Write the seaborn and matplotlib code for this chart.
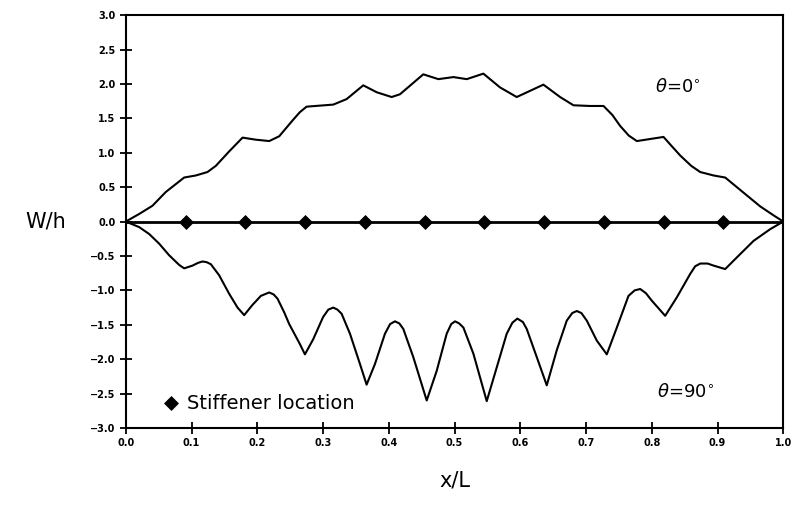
import numpy as np
import pandas as pd
import seaborn as sns
import matplotlib.pyplot as plt

# theta = 0 deg curve
x_theta0 = [0.0, 0.0203, 0.0406, 0.0609, 0.0888, 0.1066, 0.1243, 0.1370, 0.1573, 0.1776,
            0.1979, 0.2182, 0.2334, 0.2537, 0.2648, 0.2750, 0.3156, 0.3359, 0.3612, 0.3815,
            0.4044, 0.4170, 0.4525, 0.4754, 0.4983, 0.5186, 0.5439, 0.5692, 0.5946, 0.6149,
            0.6352, 0.6606, 0.6809, 0.7062, 0.7266, 0.7400, 0.7519, 0.7650, 0.7773, 0.7976,
            0.8179, 0.8300, 0.8433, 0.8600, 0.8737, 0.8940, 0.9117, 0.9396, 0.9650, 0.9853,
            1.0]
w_theta0 = [0.0, 0.11, 0.23, 0.43, 0.64, 0.67, 0.72, 0.81, 1.02, 1.22,
            1.19, 1.17, 1.24, 1.47, 1.59, 1.67, 1.70, 1.78, 1.98, 1.88,
            1.81, 1.85, 2.14, 2.07, 2.10, 2.07, 2.15, 1.95, 1.81, 1.90,
            1.99, 1.81, 1.69, 1.68, 1.68, 1.55, 1.39, 1.25, 1.17, 1.20,
            1.23, 1.10, 0.96, 0.81, 0.72, 0.67, 0.64, 0.42, 0.22, 0.09,
            0.0]

# theta = 90 deg curve
x_theta90 = [0.0, 0.0203, 0.0355, 0.0507, 0.0660, 0.0812, 0.0888, 0.1015, 0.1100, 0.1167,
             0.1230, 0.1294, 0.1420, 0.1573, 0.1700, 0.1801, 0.1928, 0.2055, 0.2182, 0.2250,
             0.2308, 0.2410, 0.2486, 0.2648, 0.2725, 0.2851, 0.3000, 0.3080, 0.3156, 0.3220,
             0.3283, 0.3410, 0.3562, 0.3663, 0.3790, 0.3942, 0.4020, 0.4094, 0.4160, 0.4221,
             0.4373, 0.4577, 0.4729, 0.4881, 0.4950, 0.5008, 0.5070, 0.5135, 0.5287, 0.5490,
             0.5642, 0.5794, 0.5880, 0.5956, 0.6040, 0.6098, 0.6251, 0.6403, 0.6555, 0.6707,
             0.6790, 0.6860, 0.6930, 0.7012, 0.7164, 0.7316, 0.7469, 0.7646, 0.7740, 0.7824,
             0.7910, 0.8001, 0.8204, 0.8382, 0.8585, 0.8660, 0.8737, 0.8850, 0.8940, 0.9117,
             0.9295, 0.9549, 0.9802, 1.0]
w_theta90 = [0.0, -0.08, -0.18, -0.32, -0.49, -0.63, -0.68, -0.64, -0.60, -0.58,
             -0.59, -0.62, -0.78, -1.05, -1.25, -1.36, -1.21, -1.08, -1.03, -1.06,
             -1.12, -1.32, -1.49, -1.78, -1.93, -1.71, -1.39, -1.28, -1.25, -1.28,
             -1.34, -1.63, -2.07, -2.37, -2.07, -1.63, -1.49, -1.45, -1.48, -1.56,
             -1.97, -2.60, -2.17, -1.63, -1.49, -1.45, -1.48, -1.54, -1.92, -2.61,
             -2.12, -1.63, -1.47, -1.41, -1.46, -1.56, -1.97, -2.38, -1.87, -1.44,
             -1.33, -1.30, -1.33, -1.44, -1.73, -1.93, -1.54, -1.08, -1.00, -0.98,
             -1.04, -1.15, -1.37, -1.10, -0.76, -0.65, -0.61, -0.61, -0.64, -0.69,
             -0.52, -0.28, -0.11, 0.0]

# stiffener positions (10 equally spaced stiffeners)
stiffener_x = [1/11, 2/11, 3/11, 4/11, 5/11, 6/11, 7/11, 8/11, 9/11, 10/11]
stiffener_y = [0.0] * 10

x_ticks = [0.0, 0.1, 0.2, 0.3, 0.4, 0.5, 0.6, 0.7, 0.8, 0.9, 1.0]
y_ticks = [-3.0, -2.5, -2.0, -1.5, -1.0, -0.5, 0.0, 0.5, 1.0, 1.5, 2.0, 2.5, 3.0]

sns.set_style("ticks")
plt.rcParams['font.family'] = ['DejaVu Sans']
plt.rcParams['text.color'] = 'black'
plt.rcParams['axes.labelcolor'] = 'black'
plt.rcParams['xtick.color'] = 'black'
plt.rcParams['ytick.color'] = 'black'

fig = plt.figure(figsize=(7.96, 5.05), dpi=100)
ax = fig.add_axes([0.158, 0.1525, 0.826, 0.8175])

ax.plot([0, 1], [0, 0], color="black", lw=2.0, zorder=2)
sns.lineplot(x=x_theta0, y=w_theta0, color="black", lw=1.5, ax=ax)
sns.lineplot(x=x_theta90, y=w_theta90, color="black", lw=1.5, ax=ax)
sns.scatterplot(x=stiffener_x, y=stiffener_y, marker="D", s=50, color="black",
                edgecolor="black", ax=ax, label="Stiffener location", zorder=3)

ax.set_xlim(0, 1)
ax.set_ylim(-3, 3)
ax.set_xticks(x_ticks)
ax.set_yticks(y_ticks)
ax.set_xticklabels([f"{v:.1f}" for v in x_ticks], fontsize=7, fontweight="bold")
ax.set_yticklabels([f"{v:.1f}".replace("-", "\u2212") for v in y_ticks], fontsize=7, fontweight="bold")
ax.tick_params(direction="inout", length=9, width=1.3, pad=3)

for side in ["left", "bottom", "top", "right"]:
    ax.spines[side].set_linewidth(1.5)
    ax.spines[side].set_color("black")

ax.set_xlabel("x/L", fontsize=15, labelpad=16)
ax.set_ylabel("W/h", fontsize=15, rotation=0, labelpad=32, va="center")

ax.text(0.805, 1.88, r"$\theta$=0$^{\circ}$", fontsize=13)
ax.text(0.808, -2.55, r"$\theta$=90$^{\circ}$", fontsize=13)

leg = ax.legend(loc="lower left", bbox_to_anchor=(0.025, -0.005), frameon=False,
                fontsize=14, handletextpad=0.2, handlelength=1.2, markerscale=1.0)

fig.savefig("out.png", dpi=100)
